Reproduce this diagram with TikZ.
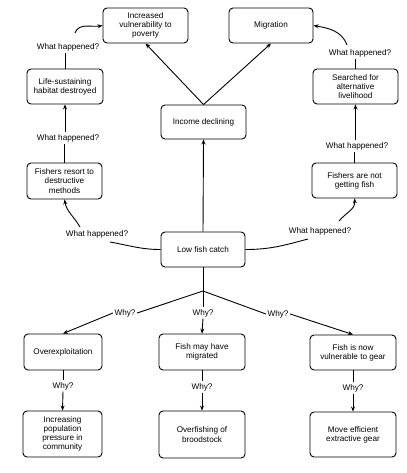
\documentclass[tikz,border=0pt]{standalone}
\usepackage{fontspec}
\setmainfont{Liberation Sans}
\usetikzlibrary{arrows.meta}
\begin{document}
\begin{tikzpicture}[x=1bp,y=-1bp,
  box/.style={draw, line width=0.9bp, rounded corners=4bp, align=center, inner sep=1bp,
    font=\fontsize{8.2}{9.2}\selectfont},
  lbl/.style={inner sep=1.5bp, font=\fontsize{8.2}{9.2}\selectfont},
  conn/.style={line width=0.9bp},
  arr/.style={conn, -{Stealth[length=5bp,width=4bp]}}]
\useasboundingbox (0,0) rectangle (406,473);
% boxes
\node[box, minimum width=85bp, minimum height=35bp] (vuln) at (145.5,25.5) {Increased\\vulnerability to\\poverty};
\node[box, minimum width=84bp, minimum height=35bp] (migr) at (271,25.5) {Migration};
\node[box, minimum width=76bp, minimum height=35bp] (life) at (65,86.5) {Life-sustaining\\habitat destroyed};
\node[box, minimum width=85bp, minimum height=34bp] (income) at (203.5,122) {Income declining};
\node[box, minimum width=85bp, minimum height=35bp] (search) at (355.5,86.5) {Searched for\\alternative\\livelihood};
\node[box, minimum width=75bp, minimum height=36bp] (resort) at (64.5,181) {Fishers resort to\\destructive\\methods};
\node[box, minimum width=85bp, minimum height=35bp] (notget) at (354.5,180.5) {Fishers are not\\getting fish};
\node[box, minimum width=84bp, minimum height=35bp] (low) at (203,249.5) {Low fish catch};
\node[box, minimum width=78bp, minimum height=36bp] (over) at (63,352) {Overexploitation};
\node[box, minimum width=86bp, minimum height=36bp] (migrated) at (202,352) {Fish may have\\migrated};
\node[box, minimum width=86bp, minimum height=35bp] (vgear) at (353,352.5) {Fish is now\\vulnerable to gear};
\node[box, minimum width=79bp, minimum height=46bp] (pop) at (62.5,434) {Increasing\\population\\pressure in\\community};
\node[box, minimum width=86bp, minimum height=47bp] (brood) at (202,434.5) {Overfishing of\\broodstock};
\node[box, minimum width=86bp, minimum height=45bp] (gear) at (353,434.5) {Move efficient\\extractive gear};
% labels
\node[lbl] (wl1) at (97,234) {What happened?};
\node[lbl] (wl2) at (68,138) {What happened?};
\node[lbl] (wl3) at (68,47) {What happened?};
\node[lbl] (wr1) at (320,231) {What happened?};
\node[lbl] (wr2) at (357,146) {What happened?};
\node[lbl] (wr3) at (360,53) {What happened?};
\node[lbl] (y1) at (125,313) {Why?};
\node[lbl] (y2) at (203,313) {Why?};
\node[lbl] (y3) at (278,314) {Why?};
\node[lbl] (y4) at (63,386) {Why?};
\node[lbl] (y5) at (202,387) {Why?};
\node[lbl] (y6) at (353,388) {Why?};
\coordinate (br) at (203,291);
% center
\draw[arr] (low.north) -- (income.south);
\draw[arr] (income.north) -- (vuln.south);
\draw[arr] (income.north) -- (migr.south);
% left chain
\draw[conn] (low.west) to[out=180,in=-10] (110,242);
\draw[arr] (80,227) to[out=120,in=-80] (resort.south);
\draw[conn] (resort.north) -- (wl2.south -| resort.north);
\draw[arr] (wl2.north -| life.south) -- (life.south);
\draw[conn] (life.north) -- (wl3.south -| life.north);
\draw[arr] (75,33) to[out=70,in=190] (vuln.west);
% right chain
\draw[conn] (low.east) to[out=0,in=195] (308,239);
\draw[arr] (339,221) to[out=50,in=-85] (notget.south);
\draw[conn] (notget.north) -- (wr2.south -| notget.north);
\draw[arr] (wr2.north -| search.south) -- (search.south);
\draw[conn] (search.north) -- (wr3.south -| search.north);
\draw[arr] (347,45) to[out=110,in=-10] (migr.east);
% bottom
\draw[conn] (low.south) -- (br);
\draw[conn] (br) -- (y1.east);
\draw[arr] (y1.west) -- (over.north);
\draw[conn] (br) -- (y2.north);
\draw[arr] (y2.south) -- (migrated.north);
\draw[conn] (br) -- (y3.west);
\draw[arr] (y3.east) -- (vgear.north);
\draw[conn] (over.south) -- (y4.north);
\draw[arr] (y4.south) -- (pop.north);
\draw[conn] (migrated.south) -- (y5.north);
\draw[arr] (y5.south) -- (brood.north);
\draw[conn] (vgear.south) -- (y6.north);
\draw[arr] (y6.south) -- (gear.north);
\end{tikzpicture}
\end{document}
